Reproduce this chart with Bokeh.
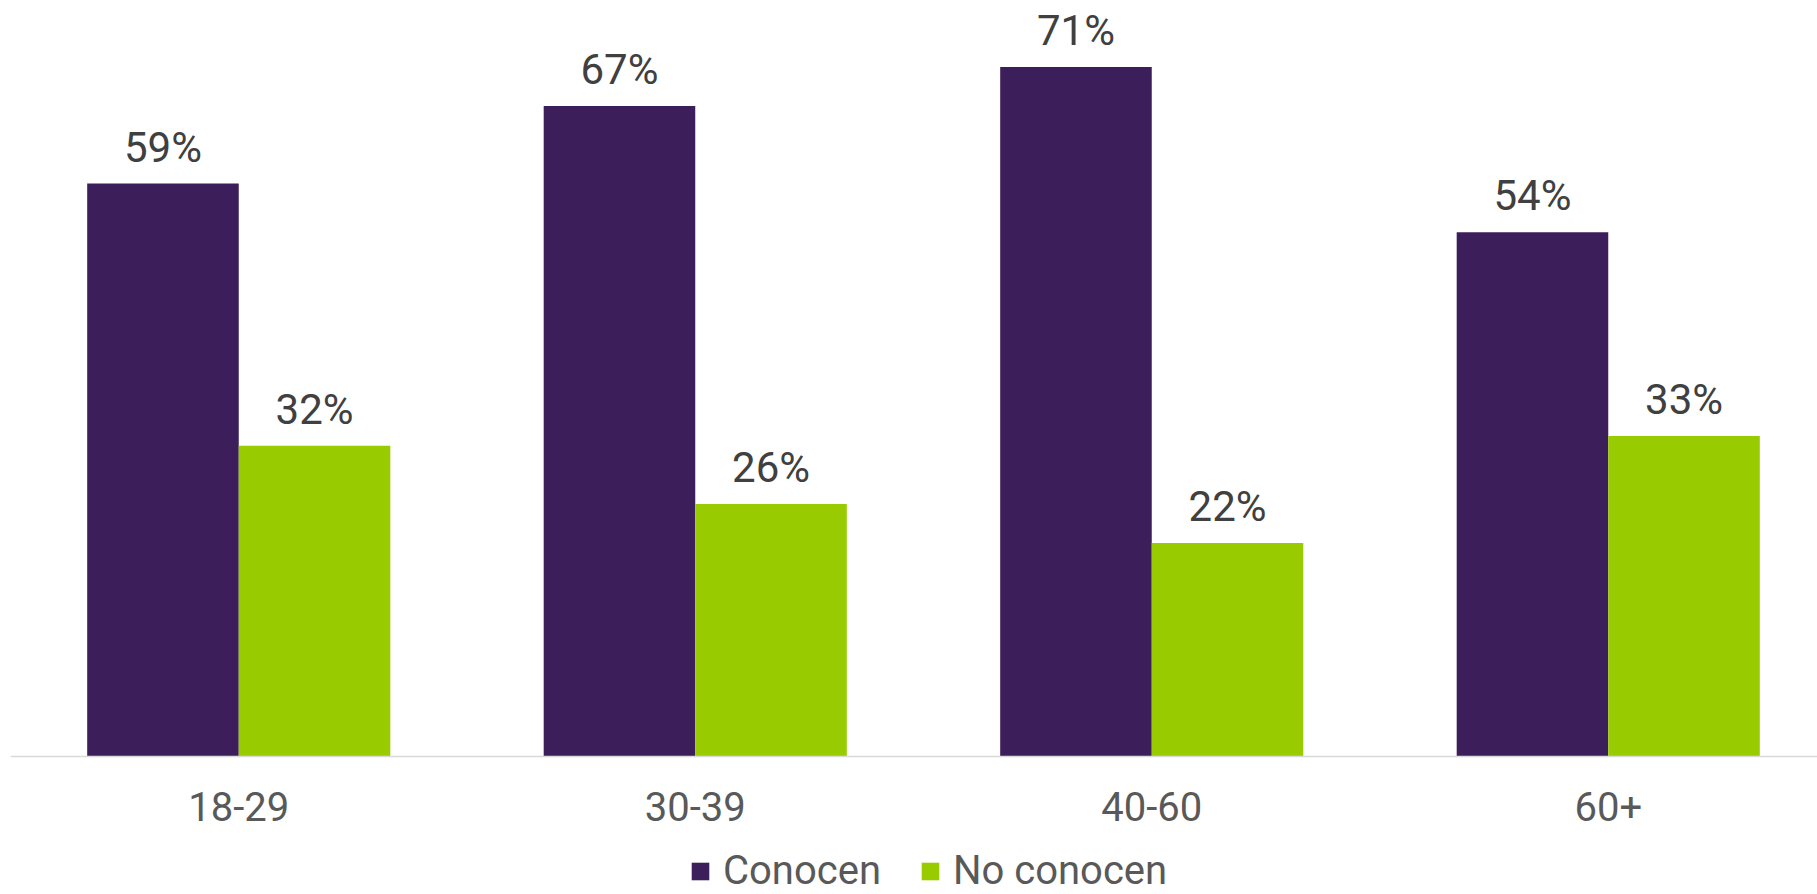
from bokeh.plotting import figure
from bokeh.models import (ColumnDataSource, LabelSet, Legend, LegendItem, Range1d, Span)
from bokeh.core.properties import value
from bokeh.transform import dodge
from bokeh.embed import file_html
from bokeh.resources import INLINE

categories = ["18-29", "30-39", "40-60", "60+"]
conocen = [59, 67, 71, 54]
no_conocen = [32, 26, 22, 33]
series_names = ["Conocen", "No conocen"]

PURPLE = "#3C1F5A"
GREEN = "#99CC00"
FONT = "Roboto"

idx = list(range(len(categories)))
src = ColumnDataSource(dict(
    x=idx,
    zero=[0] * len(idx),
    cat=categories,
    conocen=conocen,
    no_conocen=no_conocen,
    conocen_lbl=[f"{v}%" for v in conocen],
    no_conocen_lbl=[f"{v}%" for v in no_conocen],
))

W, H = 1817, 894
LEFT = 10
AXIS_Y = 756          # pixel row of the baseline
PX_PER_PCT = 9.71
p = figure(width=W, height=H, output_backend="svg", toolbar_location=None,
           x_range=Range1d(-0.5, -0.5 + (W - LEFT) / 456.5),
           y_range=Range1d(-(H - AXIS_Y) / PX_PER_PCT, AXIS_Y / PX_PER_PCT),
           min_border_left=LEFT, min_border_right=0, min_border_top=0,
           min_border_bottom=0, x_axis_location=None, y_axis_location=None)
p.outline_line_color = None
p.xgrid.visible = False
p.ygrid.visible = False
p.background_fill_color = "white"
p.border_fill_color = "white"

bw = 0.332
r1 = p.vbar(x=dodge("x", -bw / 2, range=p.x_range), top="conocen", width=bw,
            source=src, fill_color=PURPLE, line_color=None)
r2 = p.vbar(x=dodge("x", bw / 2, range=p.x_range), top="no_conocen", width=bw,
            source=src, fill_color=GREEN, line_color=None)

# baseline (category axis line)
p.add_layout(Span(location=0, dimension="width", line_color="#D9D9D9", line_width=1.5))

# value labels
for col, off in (("conocen", -bw / 2), ("no_conocen", bw / 2)):
    lbl = LabelSet(x=dodge("x", off, range=p.x_range), y=col, text=col + "_lbl",
                   source=src, y_offset=22, text_align="center",
                   text_baseline="alphabetic", text_font=value(FONT),
                   text_font_size=value("42px"), text_color=value("#404040"))
    p.add_layout(lbl)

# category labels
cat_lbl = LabelSet(x="x", y="zero", text="cat", source=src, y_offset=-64,
                   text_align="center", text_baseline="alphabetic",
                   text_font=value(FONT), text_font_size=value("40px"),
                   text_color=value("#595959"))
p.add_layout(cat_lbl)

legend = Legend(items=[LegendItem(label=series_names[0], renderers=[r1]),
                       LegendItem(label=series_names[1], renderers=[r2])],
                location=(689 - LEFT, 0), orientation="horizontal",
                glyph_width=22, glyph_height=22, label_standoff=12, spacing=38,
                padding=0, margin=0, border_line_color=None,
                background_fill_alpha=0, label_text_font=FONT,
                label_text_font_size="40px", label_text_color="#595959")
p.add_layout(legend, "center")

open("out.html", "w").write(file_html(p, INLINE))
